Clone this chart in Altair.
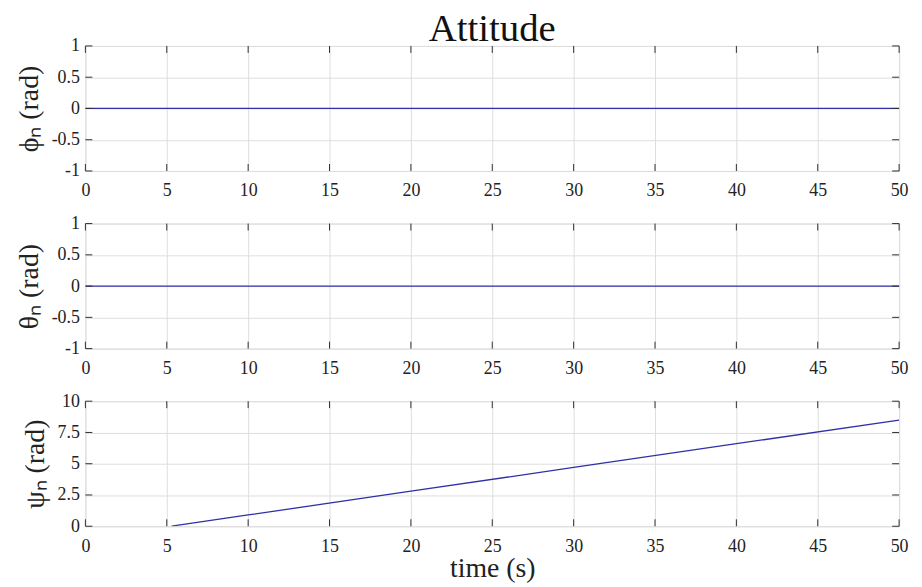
import altair as alt
import pandas as pd

# ---- data ----
time_flat = [0, 50]
phi_vals = [0, 0]
theta_vals = [0, 0]
psi_time = [5.3, 10, 20, 30, 40, 50]
psi_vals = [0.0, 0.9, 2.8, 4.7, 6.6, 8.49]

x_ticks = [0, 5, 10, 15, 20, 25, 30, 35, 40, 45, 50]
y_ticks_att = [-1, -0.5, 0, 0.5, 1]
y_ticks_psi = [0, 2.5, 5, 7.5, 10]

FONT = "Liberation Serif"
W, H = 820, 126
LINE = "#3030a8"
FRAME = "#303030"
GRID = "#dedede"
TICK = 7
LABEL_EXPR = "'' + datum.value"


def panel(df, ytitle, ydomain, yticks, xtitle):
    xs = alt.Scale(domain=[0, 50], nice=False, zero=False)
    ys = alt.Scale(domain=ydomain, nice=False, zero=False)

    xa = dict(values=x_ticks, grid=True, gridColor=GRID, gridWidth=1, tickSize=0,
              domain=False, labelPadding=11, labelFont=FONT, labelFontSize=18,
              labelColor="#222222", labelExpr=LABEL_EXPR, labelFlush=False)
    if xtitle:
        xa.update(title=xtitle, titleFont=FONT, titleFontSize=28,
                  titleFontWeight="normal", titleColor="#222222", titlePadding=0)
    else:
        xa.update(title=None)
    x_axis = alt.Axis(**xa)
    y_axis = alt.Axis(
        values=yticks, grid=True, gridColor=GRID, gridWidth=1, tickSize=0,
        domain=False, labelPadding=6, labelFont=FONT, labelFontSize=18,
        labelColor="#222222", labelExpr=LABEL_EXPR, labelFlush=False,
        title=ytitle, titleFont=FONT, titleFontSize=28,
        titleFontWeight="normal", titleColor="#222222", titlePadding=8)

    main = alt.Chart(df).mark_line(color=LINE, strokeWidth=1.3, clip=True).encode(
        x=alt.X("t:Q", scale=xs, axis=x_axis),
        y=alt.Y("v:Q", scale=ys, axis=y_axis),
    )

    xt = pd.DataFrame({"t": x_ticks})
    yt = pd.DataFrame({"v": yticks})
    rule = dict(color=FRAME, strokeWidth=1)
    bot = alt.Chart(xt).mark_rule(**rule).encode(
        x=alt.X("t:Q", scale=xs, axis=x_axis), y=alt.value(H), y2=alt.value(H - TICK))
    top = alt.Chart(xt).mark_rule(**rule).encode(
        x=alt.X("t:Q", scale=xs, axis=x_axis), y=alt.value(0), y2=alt.value(TICK))
    left = alt.Chart(yt).mark_rule(**rule).encode(
        y=alt.Y("v:Q", scale=ys, axis=y_axis), x=alt.value(0), x2=alt.value(TICK))
    right = alt.Chart(yt).mark_rule(**rule).encode(
        y=alt.Y("v:Q", scale=ys, axis=y_axis), x=alt.value(W), x2=alt.value(W - TICK))

    return alt.layer(main, bot, top, left, right).properties(width=W, height=H)


df_phi = pd.DataFrame({"t": time_flat, "v": phi_vals})
df_theta = pd.DataFrame({"t": time_flat, "v": theta_vals})
df_psi = pd.DataFrame({"t": psi_time, "v": psi_vals})

p1 = panel(df_phi, "ϕₙ (rad)", [-1, 1], y_ticks_att, None)
p2 = panel(df_theta, "θₙ (rad)", [-1, 1], y_ticks_att, None)
p3 = panel(df_psi, "ψₙ (rad)", [0, 10], y_ticks_psi, "time (s)")

chart = alt.vconcat(p1, p2, p3, spacing=53, bounds="flush").properties(
    title=alt.TitleParams("Attitude", font=FONT, fontSize=39, fontWeight="normal",
                          color="#111111", anchor="middle", frame="group", offset=-13),
    padding={"left": 7, "top": 0, "right": 5, "bottom": 2},
).configure_view(stroke=FRAME, strokeWidth=1.2).configure(background="white")

chart.save("out.html", embed_options={"renderer": "svg", "actions": False})
